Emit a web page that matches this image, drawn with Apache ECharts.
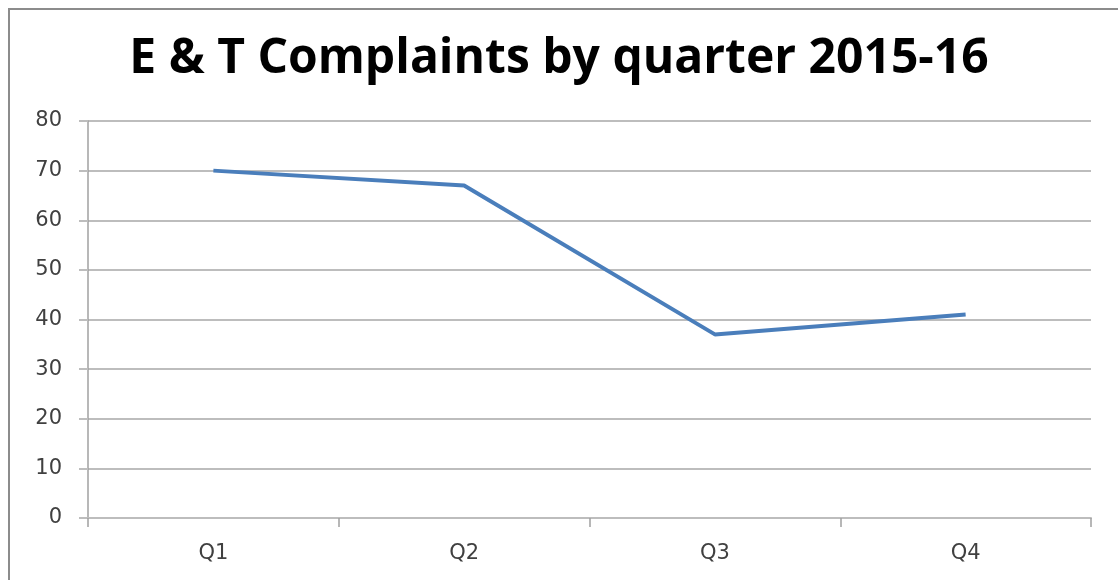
<!DOCTYPE html>
<html>
<head>
<meta charset="utf-8">
<script src="https://cdn.jsdelivr.net/npm/echarts@6/dist/echarts.min.js"></script>
<style>
html, body { margin: 0; padding: 0; background: #fff; overflow: hidden; }
#frame { position: absolute; left: 8px; top: 8px; width: 1130px; height: 600px; border: 2px solid #8c8c8c; box-sizing: border-box; }
#main { position: absolute; left: 0; top: 0; width: 1118px; height: 580px; }
</style>
</head>
<body>
<div id="frame"></div>
<div id="main"></div>
<script>
// 季度数据
var quarters = ['Q1', 'Q2', 'Q3', 'Q4'];
var complaints = [70, 67, 37, 41];

var myChart = echarts.init(document.getElementById('main'));

var option = {
    animation: false,
    title: {
        text: 'E & T Complaints by quarter 2015-16',
        left: 'center',
        top: 30,
        textStyle: {
            fontFamily: 'Open Sans',
            fontWeight: 'bold',
            fontSize: 48,
            color: '#000'
        }
    },
    grid: {
        left: 88,
        right: 27,
        top: 121,
        bottom: 62
    },
    xAxis: {
        type: 'category',
        data: quarters,
        boundaryGap: true,
        axisLine: { lineStyle: { color: '#bdbdbd', width: 2 } },
        axisTick: { show: true, length: 9, lineStyle: { color: '#a0a0a0', width: 1.5 } },
        axisLabel: { margin: 25, fontSize: 21, color: '#404040', fontFamily: 'DejaVu Sans' }
    },
    yAxis: {
        type: 'value',
        min: 0,
        max: 80,
        interval: 10,
        axisLine: { show: true, lineStyle: { color: '#a0a0a0', width: 1.5 } },
        axisTick: { show: true, length: 9, lineStyle: { color: '#bdbdbd', width: 2 } },
        axisLabel: { margin: 26, fontSize: 21, color: '#404040', fontFamily: 'DejaVu Sans' },
        splitLine: { lineStyle: { color: '#bdbdbd', width: 2 } }
    },
    series: [
        {
            type: 'line',
            data: complaints,
            symbol: 'none',
            lineStyle: { color: '#4a7ebb', width: 4 }
        }
    ]
};

myChart.setOption(option);
</script>
</body>
</html>
